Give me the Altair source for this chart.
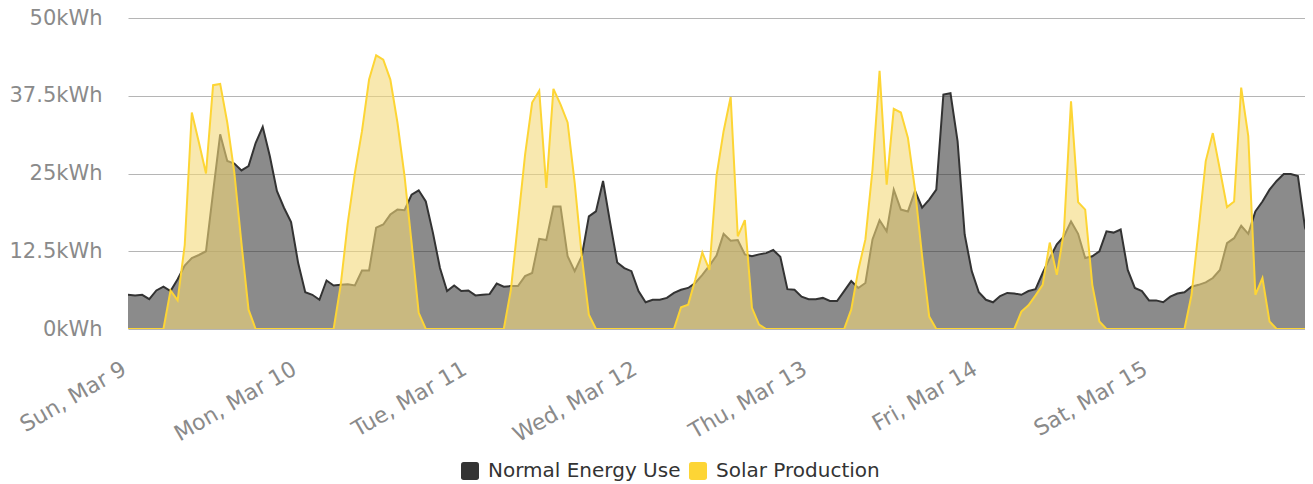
import altair as alt
import pandas as pd

day_labels = ["Sun, Mar 9", "Mon, Mar 10", "Tue, Mar 11", "Wed, Mar 12",
              "Thu, Mar 13", "Fri, Mar 14", "Sat, Mar 15"]
series_names = ["Normal Energy Use", "Solar Production"]
y_ticks = [0, 12.5, 25, 37.5, 50]

# hourly values, Sun Mar 9 00:00 -> Sat Mar 15 23:00
normal_use = [
    5.5, 5.4, 5.5, 4.8, 6.2, 6.8, 6.1, 8.0, 10.2, 11.4, 11.9, 12.5,
    22.0, 31.3, 27.0, 26.6, 25.5, 26.2, 29.9, 32.5, 27.8, 22.2, 19.5, 17.2,
    10.6, 5.9, 5.5, 4.7, 7.8, 7.0, 7.1, 7.2, 7.0, 9.4, 9.4, 16.3,
    16.8, 18.4, 19.2, 19.1, 21.6, 22.3, 20.5, 15.5, 9.8, 6.1, 7.0, 6.1,
    6.2, 5.4, 5.5, 5.6, 7.3, 6.8, 6.9, 6.9, 8.5, 9.0, 14.5, 14.3,
    19.7, 19.7, 11.7, 9.3, 11.7, 18.1, 18.9, 23.8, 17.1, 10.7, 9.8, 9.3,
    6.1, 4.3, 4.7, 4.7, 5.0, 5.8, 6.3, 6.6, 7.4, 8.7, 10.2, 11.8,
    15.3, 14.2, 14.3, 12.0, 11.7, 12.0, 12.2, 12.7, 11.6, 6.4, 6.3, 5.2,
    4.8, 4.8, 5.0, 4.5, 4.5, 6.1, 7.7, 6.6, 7.4, 14.4, 17.5, 15.7,
    22.4, 19.2, 18.9, 22.2, 19.5, 20.8, 22.4, 37.7, 37.9, 30.2, 15.2, 9.3,
    5.9, 4.7, 4.3, 5.3, 5.8, 5.7, 5.5, 6.1, 6.4, 9.0, 11.4, 13.6,
    14.9, 17.3, 15.3, 11.4, 11.7, 12.5, 15.7, 15.5, 16.0, 9.5, 6.6, 6.1,
    4.6, 4.6, 4.3, 5.2, 5.7, 5.9, 6.8, 7.1, 7.5, 8.2, 9.5, 13.8,
    14.6, 16.6, 15.3, 18.9, 20.5, 22.4, 23.8, 24.9, 24.9, 24.6, 16.3, 13.6,
]
solar_production = [
    0, 0, 0, 0, 0, 0, 6.2, 4.6, 13.5, 34.8, 30.0, 25.0,
    39.2, 39.4, 33.2, 25.1, 13.8, 3.1, 0, 0, 0, 0, 0, 0,
    0, 0, 0, 0, 0, 0, 7.1, 17.1, 25.1, 31.8, 40.1, 44.0,
    43.3, 40.1, 33.2, 24.6, 13.8, 2.6, 0, 0, 0, 0, 0, 0,
    0, 0, 0, 0, 0, 0, 6.3, 17.1, 28.0, 36.4, 38.3, 22.7,
    38.6, 36.1, 33.2, 23.5, 11.7, 2.3, 0, 0, 0, 0, 0, 0,
    0, 0, 0, 0, 0, 0, 3.5, 3.9, 7.9, 12.3, 9.5, 24.6,
    31.8, 37.3, 14.9, 17.5, 3.4, 0.7, 0, 0, 0, 0, 0, 0,
    0, 0, 0, 0, 0, 0, 3.1, 9.5, 14.4, 25.6, 41.5, 23.2,
    35.4, 34.8, 30.7, 22.4, 11.7, 2.0, 0, 0, 0, 0, 0, 0,
    0, 0, 0, 0, 0, 0, 2.8, 3.8, 5.4, 7.1, 13.9, 8.7,
    15.7, 36.6, 20.4, 19.2, 7.1, 1.2, 0, 0, 0, 0, 0, 0,
    0, 0, 0, 0, 0, 0, 5.5, 16.0, 27.0, 31.5, 25.6, 19.6,
    20.5, 38.8, 31.0, 5.5, 8.2, 1.2, 0, 0, 0, 0, 0, 0,
]

hours = list(range(len(normal_use)))
df = pd.DataFrame({
    "hour": hours + hours,
    "series": [series_names[0]] * len(hours) + [series_names[1]] * len(hours),
    "kwh": normal_use + solar_production,
})

label_array = "[" + ",".join("'" + s + "'" for s in day_labels) + "]"

x_enc = alt.X(
    "hour:Q",
    scale=alt.Scale(domain=[0, 166], nice=False, zero=False),
    axis=alt.Axis(
        values=[24 * i for i in range(len(day_labels))],
        labelExpr=label_array + "[round(datum.value / 24)]",
        labelAngle=-30, labelAlign="right", labelBaseline="top",
        labelFontSize=22, labelColor="#8a8a8a", labelFont="DejaVu Sans",
        labelPadding=29, labelOffset=-9,
        labelFlush=False, labelOverlap=False, labelBound=False,
        grid=False, ticks=False, domain=False, title=None,
    ),
)
y_enc = alt.Y(
    "kwh:Q",
    scale=alt.Scale(domain=[0, 50], nice=False),
    axis=alt.Axis(
        values=y_ticks, labelExpr="datum.value + 'kWh'",
        labelFontSize=21, labelColor="#8a8a8a", labelFont="DejaVu Sans",
        labelPadding=26, labelFlush=False, labelOverlap=False,
        grid=True, gridColor="#b5b5b5", gridWidth=1,
        ticks=False, domain=False, title=None,
    ),
)

rounded_square = ("M -0.7 -1 L 0.7 -1 Q 1 -1 1 -0.7 L 1 0.7 Q 1 1 0.7 1 "
                  "L -0.7 1 Q -1 1 -1 0.7 L -1 -0.7 Q -1 -1 -0.7 -1 Z")

color_enc = alt.Color(
    "series:N",
    scale=alt.Scale(domain=series_names, range=["#333333", "#FDD535"]),
    legend=alt.Legend(
        title=None, orient="none", direction="horizontal",
        legendX=332, legendY=443,
        symbolType=rounded_square, symbolSize=324,
        symbolOpacity=1, symbolStrokeWidth=0,
        labelFontSize=20, labelColor="#333333", labelFont="DejaVu Sans",
        labelOffset=8, columnPadding=7, labelLimit=0,
    ),
)

base = alt.Chart(df)
normal = base.transform_filter(alt.datum.series == series_names[0])
solar = base.transform_filter(alt.datum.series == series_names[1])

normal_area = normal.mark_area(color="#333333", opacity=0.57, clip=True).encode(x=x_enc, y=y_enc)
normal_line = normal.mark_line(strokeWidth=2, color="#333333", clip=True).encode(x=x_enc, y=y_enc)
solar_area = solar.mark_area(color="#F3D97A", opacity=0.6, clip=True).encode(x=x_enc, y=y_enc)
solar_line = solar.mark_line(strokeWidth=2, color="#FDD535", clip=True).encode(x=x_enc, y=y_enc)
legend_layer = base.mark_point(filled=True, opacity=0, size=1, clip=True).encode(
    x=x_enc, y=y_enc, color=color_enc)

chart = alt.layer(normal_area, normal_line, solar_area, solar_line, legend_layer).properties(
    width=1177, height=311,
    padding={"left": 120, "top": 10, "right": 0, "bottom": 162},
    autosize=alt.AutoSizeParams(type="none"),
    background="white",
).configure_view(stroke=None)

chart.save("out.html", embed_options={"renderer": "svg", "actions": False})
